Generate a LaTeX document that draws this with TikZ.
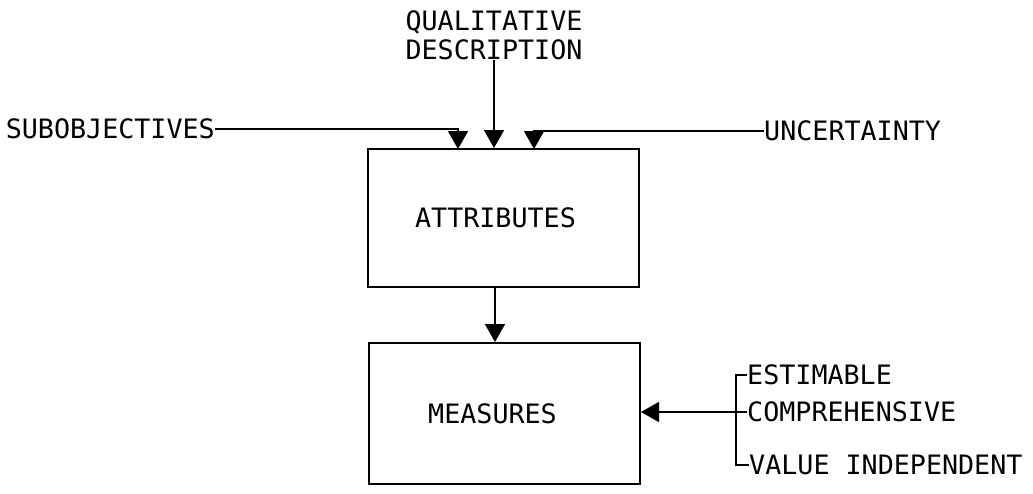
\documentclass[tikz,border=0pt]{standalone}
\usepackage{fontspec}
\setmonofont{DejaVu Sans Mono}
\usetikzlibrary{arrows.meta}
\begin{document}
\begin{tikzpicture}[x=1pt,y=-1pt,
  lbl/.style={font=\ttfamily\fontsize{26.7}{29}\selectfont, inner sep=0pt},
  blk/.style={draw, line width=2pt, minimum width=271pt, minimum height=138pt, font=\ttfamily\fontsize{26.7}{29}\selectfont},
  conn/.style={line width=1.6pt},
  arr/.style={conn, -{Triangle[width=20pt,length=18pt]}}]
\useasboundingbox (0,0) rectangle (1033,493);
\node[blk] (attr) at (503.5,218) {\hspace*{-16pt}ATTRIBUTES};
\node[blk, minimum height=141pt] (meas) at (504.5,413.5) {\hspace*{-24pt}MEASURES};
\node[lbl, anchor=east] (sub) at (215,129) {SUBOBJECTIVES};
\node[lbl, align=center, anchor=south] (qual) at (494,60) {QUALITATIVE\\DESCRIPTION};
\node[lbl, anchor=west] (unc) at (764,131) {UNCERTAINTY};
\node[lbl, anchor=west] (est) at (747,375) {ESTIMABLE};
\node[lbl, anchor=west] (comp) at (747,412) {COMPREHENSIVE};
\node[lbl, anchor=west] (val) at (749,465) {VALUE INDEPENDENT};
\coordinate (subin) at (458,149);
\coordinate (uncin) at (534,149);
\draw[arr] (sub.east) -| (subin);
\draw[arr] (qual.south) -- (qual.south |- attr.north);
\draw[arr] (unc.west) -| (uncin);
\draw[arr] (attr.south -| 495,0) -- (meas.north -| 495,0);
\draw[conn] (est.west) -- (736,375) -- (736,465) -- (val.west);
\draw[arr] (comp.west) -- (meas.east |- comp.west);
\end{tikzpicture}
\end{document}
